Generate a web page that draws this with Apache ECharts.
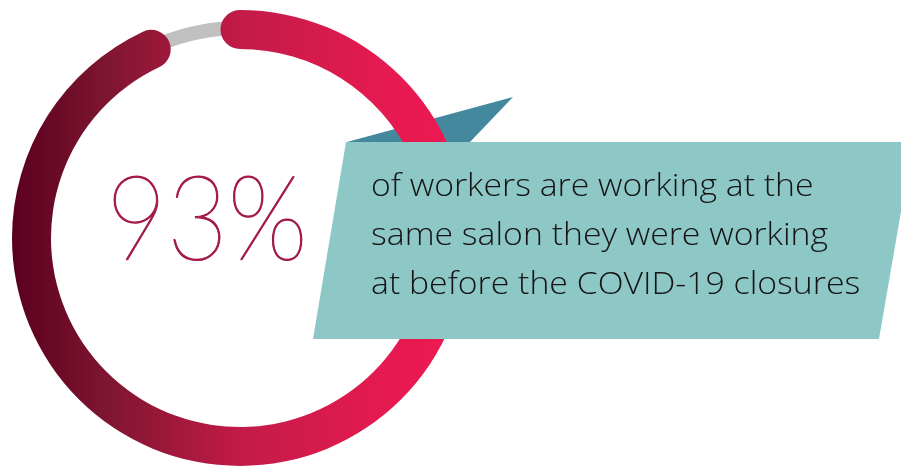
<!DOCTYPE html>
<html>
<head>
<meta charset="utf-8">
<script src="https://cdn.jsdelivr.net/npm/echarts@6/dist/echarts.min.js"></script>
<style>
  html, body { margin: 0; padding: 0; background: #ffffff; }
  #chart { width: 901px; height: 467px; }
</style>
</head>
<body>
<div id="chart"></div>
<script>
// Share of workers still at the same salon
const shareValue = [93];
const trackValue = [100];
const ringCategory = ['workers'];
const headline = shareValue[0] + '%';
const captionLines = [
  'of workers are working at the',
  'same salon they were working',
  'at before the COVID-19 closures'
];

const chart = echarts.init(document.getElementById('chart'), null, { renderer: 'canvas' });

const ringGradient = new echarts.graphic.LinearGradient(0, 0, 1, 0, [
  { offset: 0, color: '#5a001e' },
  { offset: 0.2, color: '#7c1530' },
  { offset: 0.5, color: '#c21b47' },
  { offset: 0.8, color: '#e41a50' },
  { offset: 1, color: '#ee1952' }
]);

const hiddenAngle = (i) => ({ polarIndex: i, min: 0, max: 100, startAngle: 90, clockwise: true, show: false });
const hiddenRadius = (i) => ({ polarIndex: i, type: 'category', data: ringCategory, show: false });

const option = {
  backgroundColor: '#ffffff',
  animation: false,
  polar: [
    { center: [240, 238], radius: [203, 217] },
    { center: [240, 238], radius: [189, 228] }
  ],
  angleAxis: [hiddenAngle(0), hiddenAngle(1)],
  radiusAxis: [hiddenRadius(0), hiddenRadius(1)],
  series: [
    {
      type: 'bar',
      coordinateSystem: 'polar',
      polarIndex: 0,
      data: trackValue,
      barWidth: '100%',
      itemStyle: { color: '#c0c0c0' },
      z: 2,
      silent: true
    },
    {
      type: 'bar',
      coordinateSystem: 'polar',
      polarIndex: 1,
      data: shareValue,
      barWidth: '100%',
      roundCap: true,
      itemStyle: { color: ringGradient },
      z: 3,
      silent: true
    }
  ],
  graphic: [
    {
      type: 'polygon',
      z: 1,
      shape: { points: [[347, 142], [513, 97], [470, 142]] },
      style: { fill: '#44889e' }
    },
    {
      type: 'polygon',
      z: 10,
      shape: { points: [[346, 142], [913, 142], [879, 339], [313, 339]] },
      style: { fill: '#8dc8c6' }
    },
    {
      type: 'text',
      z: 11,
      x: 106,
      y: 163,
      scaleX: 0.89,
      style: {
        text: headline,
        font: '100 118px Lato, "Open Sans", sans-serif',
        fill: '#a31b46',
        stroke: '#a31b46',
        lineWidth: 1.2
      }
    },
    {
      type: 'text',
      z: 11,
      x: 371,
      y: 163,
      scaleX: 1.09,
      style: {
        text: captionLines.join('\n'),
        font: '300 31px "Open Sans", Lato, sans-serif',
        lineHeight: 49,
        fill: '#141414'
      }
    }
  ]
};

chart.setOption(option);
</script>
</body>
</html>
